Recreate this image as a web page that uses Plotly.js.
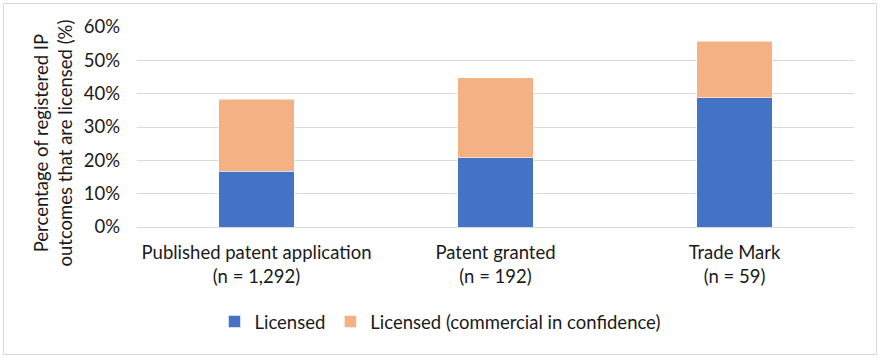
<!DOCTYPE html>
<html>
<head>
<meta charset="utf-8">
<script src="https://cdn.plot.ly/plotly-3.0.1.min.js"></script>
<style>html,body{margin:0;padding:0;background:#fff;}#chart{width:887px;height:362px;}</style>
</head>
<body>
<div id="chart"></div>
<script>
const categories = ["Published patent application<br>(n = 1,292)", "Patent granted<br>(n = 192)", "Trade Mark<br>(n = 59)"];
const licensed = [16.7, 20.8, 38.8];
const licensedConfidential = [21.6, 24.0, 17.0];
const seriesNames = ["Licensed", "Licensed (commercial in confidence)"];
const yTicks = [0, 10, 20, 30, 40, 50, 60];
const yTickText = ["0%", "10%", "20%", "30%", "40%", "50%", "60%"];
const yTitle = "Percentage of registered IP<br>outcomes that are licensed (%)";

const W = 887, H = 362;
const m = {l: 137, r: 33, t: 27, b: 135};
const pw = W - m.l - m.r, ph = H - m.t - m.b;
const px = x => (x - m.l) / pw;
const py = y => (H - m.b - y) / ph;

const font = {family: "Lato, 'Open Sans', sans-serif", size: 18.5, color: "#1a1a1a"};

const traces = [
  {type: "bar", x: categories, y: licensed, name: seriesNames[0],
   marker: {color: "#4472C4", line: {color: "#ffffff", width: 0.5}}},
  {type: "bar", x: categories, y: licensedConfidential, name: seriesNames[1],
   marker: {color: "#F4B183", line: {color: "#ffffff", width: 0.5}}}
];

const layout = {
  width: W, height: H,
  margin: m,
  barmode: "stack",
  bargap: 0.686,
  paper_bgcolor: "#ffffff", plot_bgcolor: "#ffffff",
  font: font,
  showlegend: true,
  legend: {orientation: "h", x: px(440), xanchor: "center", y: py(322), yanchor: "middle",
           font: font, tracegroupgap: 0, traceorder: "normal"},
  xaxis: {type: "category", showgrid: false, zeroline: false, showline: false, ticks: "",
          tickfont: font, automargin: false, ticklabelstandoff: 12},
  yaxis: {range: [0, 60], tickmode: "array", tickvals: yTicks, ticktext: yTickText, showgrid: true,
          gridcolor: "#d9d9d9", gridwidth: 1, zeroline: true, zerolinecolor: "#d9d9d9",
          zerolinewidth: 1, showline: false, ticks: "", ticklabelstandoff: 16, tickfont: font,
          automargin: false},
  annotations: [{text: yTitle, xref: "paper", yref: "paper", x: px(52), y: py(143.5),
                 xanchor: "center", yanchor: "middle", textangle: -90, showarrow: false,
                 font: font, align: "center"}],
  shapes: [{type: "rect", xref: "paper", yref: "paper",
            x0: px(3.5), x1: px(876.5), y0: py(354.5), y1: py(3.5),
            line: {color: "#d9d9d9", width: 1}, fillcolor: "rgba(0,0,0,0)", layer: "below"}]
};

Plotly.newPlot("chart", traces, layout, {displayModeBar: false, staticPlot: true});
</script>
</body>
</html>
